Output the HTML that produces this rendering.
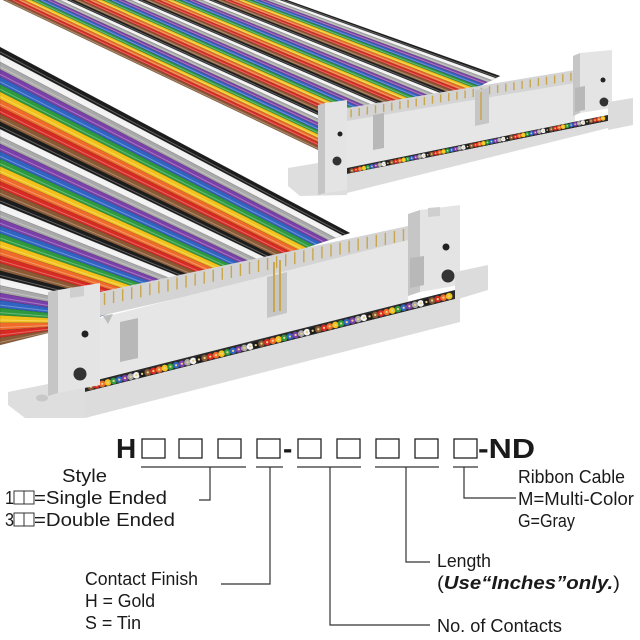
<!DOCTYPE html>
<html><head><meta charset="utf-8"><style>
html,body{margin:0;padding:0;background:#fff;width:640px;height:640px;overflow:hidden}
svg{display:block}
text{font-family:"Liberation Sans Narrow","Liberation Sans",sans-serif;fill:#1a1a1a}
</style></head><body>
<svg id="s" width="640" height="640" viewBox="0 0 640 640" xmlns="http://www.w3.org/2000/svg">
<g id="cables"></g>
<g id="back">
<polygon points="347,108 575,70 575,86 347,124" fill="#d4d4d4"/>
<g id="bpins"></g>
<polygon points="347,121 575,83 575,122 347,168" fill="#e6e6e6"/>
<polygon points="475,90 489,88 489,123 475,126" fill="#c6c6c6"/>
<line x1="481" y1="92" x2="481" y2="120" stroke="#c9a64a" stroke-width="1.5"/>
<polygon points="373,115 384,113 384,148 373,150" fill="#b8b8b8"/>
<polygon points="347,168 608,115 608,121 347,174" fill="#2a2a2a"/>
<g id="bdots"></g>
<polygon points="347,174 608,121 608,128 347,193" fill="#dcdcdc"/>
<polygon points="288,168 318,163 347,168 347,195 300,196 288,186" fill="#dedede"/>
<polygon points="318,105 325,103 325,193 318,195" fill="#c6c6c6"/>
<polygon points="325,103 347,100 347,190 325,193" fill="#e4e4e4"/>
<circle cx="340" cy="134" r="2.5" fill="#222"/>
<circle cx="337" cy="161" r="4.5" fill="#333"/>
<polygon points="573,56 580,53 580,113 573,116" fill="#c6c6c6"/>
<polygon points="580,53 612,50 612,108 580,113" fill="#e4e4e4"/>
<polygon points="575,88 585,86 585,110 575,112" fill="#b8b8b8"/>
<circle cx="603" cy="80" r="2.5" fill="#222"/>
<circle cx="604" cy="102" r="4.5" fill="#333"/>
<polygon points="608,102 633,98 633,125 608,130" fill="#dcdcdc"/>
</g>
<g id="front">
<polygon points="100,292 408,226 408,246 100,316" fill="#d4d4d4"/>
<g id="fpins"></g>
<polygon points="100,318 408,240 408,302 100,379" fill="#e6e6e6"/>
<polygon points="267,277 287,272 287,313 267,318" fill="#c6c6c6"/>
<line x1="274" y1="262" x2="274" y2="312" stroke="#c9a64a" stroke-width="2"/>
<line x1="280" y1="260" x2="280" y2="311" stroke="#c9a64a" stroke-width="2"/>
<polygon points="120,322 138,318 138,358 120,362" fill="#b8b8b8"/>
<polygon points="103,316 113,314 108,324" fill="#bdbdbd"/>
<polygon points="85,383 455,290 455,299 85,392" fill="#2a2a2a"/>
<g id="fdots"></g>
<polygon points="85,392 460,298 460,322 85,418" fill="#dcdcdc"/>
<polygon points="8,392 48,384 58,384 85,388 85,418 25,418 8,405" fill="#dedede"/>
<ellipse cx="42" cy="398" rx="6" ry="3.5" fill="#c8c8c8"/>
<polygon points="48,292 58,290 58,393 48,396" fill="#c6c6c6"/>
<polygon points="58,290 100,283 100,385 58,393" fill="#e4e4e4"/>
<polygon points="70,288 84,286 84,296 70,298" fill="#cfcfcf"/>
<circle cx="85" cy="334" r="3.5" fill="#222"/>
<circle cx="80" cy="374" r="6.5" fill="#333"/>
<polygon points="408,214 420,210 420,292 408,296" fill="#c6c6c6"/>
<polygon points="420,210 460,205 460,285 420,292" fill="#e4e4e4"/>
<polygon points="428,208 440,207 440,216 428,217" fill="#cfcfcf"/>
<polygon points="410,258 424,256 424,285 410,288" fill="#b8b8b8"/>
<circle cx="446" cy="247" r="3.5" fill="#222"/>
<circle cx="448" cy="276" r="6.5" fill="#333"/>
<polygon points="455,272 488,265 488,290 455,300" fill="#dcdcdc"/>
</g>
<g>
<text x="116" y="458" font-size="28" font-weight="bold" style="font-family:'Liberation Sans',sans-serif">H</text>
<g fill="none" stroke="#222" stroke-width="1.3">
<rect x="142" y="439" width="23" height="19"/><rect x="179" y="439" width="23" height="19"/>
<rect x="218" y="439" width="23" height="19"/><rect x="257" y="439" width="23" height="19"/>
<rect x="298" y="439" width="23" height="19"/><rect x="337" y="439" width="23" height="19"/>
<rect x="376" y="439" width="23" height="19"/><rect x="415" y="439" width="23" height="19"/>
<rect x="454" y="439" width="23" height="19"/>
</g>
<text x="283" y="458" font-size="28" font-weight="bold" style="font-family:'Liberation Sans',sans-serif">-</text>
<text x="478" y="458" font-size="28" font-weight="bold" textLength="57" lengthAdjust="spacingAndGlyphs" style="font-family:'Liberation Sans',sans-serif">-ND</text>
</g>
<g stroke="#333" stroke-width="1.2" fill="none">
<line x1="141" y1="467" x2="246" y2="467"/><line x1="256" y1="467" x2="283" y2="467"/>
<line x1="297" y1="467" x2="361" y2="467"/><line x1="375" y1="467" x2="439" y2="467"/>
<line x1="453" y1="467" x2="478" y2="467"/>
<polyline points="210,467 210,500 199,500"/>
<polyline points="270,467 270,584 221,584"/>
<polyline points="330,467 330,625 430,625"/>
<polyline points="406,467 406,562 430,562"/>
<polyline points="464,467 464,498 516,498"/>
</g>
<g font-size="18">
<text x="62" y="482" textLength="45" lengthAdjust="spacingAndGlyphs">Style</text>
<text x="5" y="504" textLength="9" lengthAdjust="spacingAndGlyphs">1</text>
<text x="34" y="504" textLength="133" lengthAdjust="spacingAndGlyphs">=Single Ended</text>
<text x="5" y="526" textLength="9" lengthAdjust="spacingAndGlyphs">3</text>
<text x="34" y="526" textLength="141" lengthAdjust="spacingAndGlyphs">=Double Ended</text>
<text x="85" y="585" textLength="113" lengthAdjust="spacingAndGlyphs">Contact Finish</text>
<text x="85" y="607" textLength="70" lengthAdjust="spacingAndGlyphs">H = Gold</text>
<text x="85" y="629" textLength="56" lengthAdjust="spacingAndGlyphs">S = Tin</text>
<text x="518" y="483" textLength="107" lengthAdjust="spacingAndGlyphs">Ribbon Cable</text>
<text x="518" y="505" textLength="116" lengthAdjust="spacingAndGlyphs">M=Multi-Color</text>
<text x="518" y="527" textLength="57" lengthAdjust="spacingAndGlyphs">G=Gray</text>
<text x="437" y="567" textLength="54" lengthAdjust="spacingAndGlyphs">Length</text>
<text x="437" y="589" textLength="183" lengthAdjust="spacingAndGlyphs">(<tspan font-weight="bold" font-style="italic">Use“Inches”only.</tspan>)</text>
<text x="437" y="632" textLength="125" lengthAdjust="spacingAndGlyphs">No. of Contacts</text>
</g>
<g fill="none" stroke="#333" stroke-width="1"><rect x="14" y="491" width="10" height="13"/><rect x="24" y="491" width="10" height="13"/>
<rect x="14" y="513" width="10" height="13"/><rect x="24" y="513" width="10" height="13"/></g>
</svg>
<script>
var NS="http://www.w3.org/2000/svg";
var cols=["#8a5a34","#d62a22","#f06a2a","#f2c21a","#2e9a3e","#2f64c2","#7a3fa8","#a9a9a9","#f2f2f2","#1c1c1c"];
function el(p,t,a){var e=document.createElementNS(NS,t);for(var k in a)e.setAttribute(k,a[k]);p.appendChild(e);return e;}
function lerp(a,b,t){return [a[0]+(b[0]-a[0])*t,a[1]+(b[1]-a[1])*t];}
var g=document.getElementById("cables");
function cable(s0,s1,e0,e1,N){
 for(var i=0;i<N;i++){
  var t0=i/N,t1=(i+1)/N;
  var a=lerp(s0,s1,t0),b=lerp(s0,s1,t1),c=lerp(e0,e1,t1),d=lerp(e0,e1,t0);
  el(g,"polygon",{points:[a,b,c,d].map(function(p){return p[0].toFixed(1)+","+p[1].toFixed(1)}).join(" "),fill:cols[i%10],stroke:"rgba(0,0,0,0.2)","stroke-width":"0.6"});
  var m0=lerp(s0,s1,(i+0.35)/N),m1=lerp(e0,e1,(i+0.35)/N);
  el(g,"line",{x1:m0[0],y1:m0[1],x2:m1[0],y2:m1[1],stroke:"rgba(255,255,255,0.3)","stroke-width":"1"});
 }
}
cable([3,0],[287,0],[335,158],[500,76],40);
cable([0,345],[0,47],[60,330],[350,233],40);
function pins(id,x0,y0,x1,y1,n,len){var p=document.getElementById(id);for(var i=0;i<n;i++){var t=(i+0.5)/n,x=x0+(x1-x0)*t,y=y0+(y1-y0)*t;el(p,"line",{x1:x,y1:y+2,x2:x,y2:y+len,stroke:"#c9a64a","stroke-width":"1.4"});}}
pins("fpins",100,292,408,226,34,14);
pins("bpins",347,108,575,70,28,10);
function dots(id,x0,y0,x1,y1,n,r){var p=document.getElementById(id);for(var i=0;i<n;i++){var t=(i+0.5)/n,x=x0+(x1-x0)*t,y=y0+(y1-y0)*t;el(p,"circle",{cx:x,cy:y,r:r,fill:cols[i%10]});el(p,"circle",{cx:x,cy:y,r:r*0.35,fill:"#e8d08a"});}}
dots("fdots",88,387.5,452,295.5,64,3.3);
dots("bdots",350,171,605,118,64,2.3);
</script>
</body></html>
